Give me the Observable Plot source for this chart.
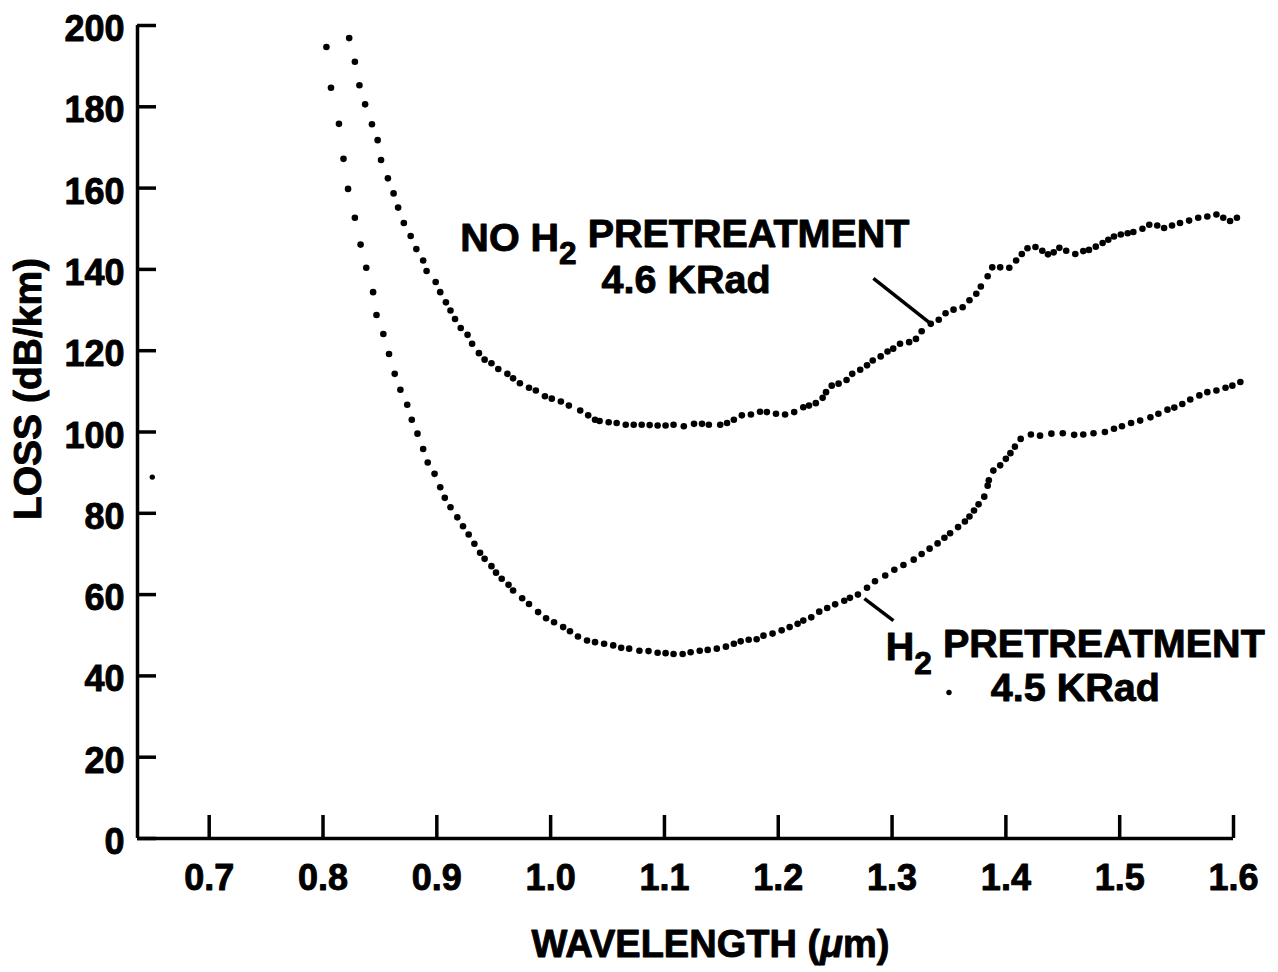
<!DOCTYPE html>
<html>
<head>
<meta charset="utf-8">
<script src="https://cdn.jsdelivr.net/npm/d3@7"></script>
<script src="https://cdn.jsdelivr.net/npm/@observablehq/plot@0.6"></script>
<style>
  html, body { margin: 0; padding: 0; background: #fff; }
  #chart { width: 1278px; height: 972px; }
</style>
</head>
<body>
<div id="chart"></div>
<script>
// ---- Data ----
const noH2Wavelength = [0.823,0.828,0.832,0.837,0.843,0.848,0.851,0.857,0.862,0.866,
  0.871,0.877,0.882,0.888,0.891,0.899,0.903,0.908,0.912,0.916,
  0.921,0.927,0.931,0.937,0.942,0.948,0.954,0.962,0.967,0.973,
  0.981,0.987,0.995,1.001,1.009,1.016,1.026,1.033,1.039,1.043,
  1.051,1.058,1.066,1.073,1.080,1.087,1.094,1.101,1.108,1.117,
  1.126,1.133,1.139,1.149,1.155,1.161,1.168,1.176,1.184,1.190,
  1.198,1.206,1.214,1.222,1.227,1.233,1.239,1.242,1.247,1.253,
  1.260,1.265,1.272,1.278,1.283,1.290,1.296,1.301,1.307,1.315,
  1.321,1.326,1.334,1.341,1.347,1.354,1.362,1.368,1.374,1.378,
  1.384,1.388,1.395,1.403,1.409,1.414,1.419,1.426,1.432,1.437,
  1.442,1.447,1.453,1.461,1.468,1.473,1.479,1.485,1.490,1.495,
  1.501,1.507,1.512,1.520,1.526,1.533,1.539,1.546,1.553,1.561,
  1.569,1.577,1.585,1.591,1.597,1.603];
const noH2Loss = [196.9,191.1,185.3,180.6,175.7,171.8,166.9,162.4,158.7,155.2,
  151.4,148.2,145.0,142.2,139.6,136.9,134.4,131.9,129.9,127.8,
  125.6,123.9,121.7,119.4,117.8,116.9,115.5,114.3,113.2,112.0,
  110.9,110.2,108.8,108.2,107.5,106.5,105.3,104.1,103.0,102.7,
  102.4,102.2,101.8,101.8,101.8,101.7,101.6,101.6,101.8,101.4,
  102.0,102.0,101.8,101.8,102.2,103.0,104.1,104.3,105.0,104.9,
  104.5,104.3,104.9,106.1,106.5,107.1,108.4,109.8,111.4,111.9,
  112.8,114.3,115.3,116.4,117.6,118.6,119.8,120.5,121.7,122.1,
  122.9,124.8,126.6,127.6,129.2,130.1,130.7,132.4,134.0,135.8,
  138.3,140.5,140.5,140.4,142.2,143.8,145.2,145.5,144.6,143.7,
  144.2,145.3,144.6,143.8,144.5,144.8,145.6,146.5,147.3,148.1,
  148.6,148.9,149.2,150.0,151.0,150.8,150.2,150.8,151.4,152.0,
  152.7,153.0,153.5,152.7,151.9,152.7];

const h2Wavelength = [0.803,0.807,0.814,0.818,0.822,0.828,0.833,0.838,0.844,0.847,
  0.853,0.858,0.863,0.868,0.874,0.878,0.883,0.888,0.892,0.898,
  0.903,0.907,0.912,0.918,0.923,0.928,0.933,0.938,0.942,0.948,
  0.952,0.957,0.963,0.967,0.975,0.981,0.989,0.996,1.003,1.011,
  1.017,1.024,1.032,1.039,1.047,1.055,1.062,1.069,1.078,1.086,
  1.094,1.101,1.108,1.116,1.123,1.131,1.138,1.146,1.154,1.161,
  1.167,1.174,1.181,1.187,1.195,1.203,1.210,1.217,1.222,1.229,
  1.236,1.243,1.250,1.258,1.263,1.270,1.278,1.285,1.294,1.302,
  1.310,1.319,1.326,1.333,1.340,1.346,1.351,1.358,1.364,1.368,
  1.372,1.376,1.381,1.384,1.385,1.389,1.395,1.400,1.404,1.408,
  1.413,1.422,1.430,1.440,1.450,1.460,1.468,1.477,1.487,1.495,
  1.502,1.510,1.518,1.527,1.534,1.542,1.548,1.555,1.562,1.570,
  1.577,1.585,1.593,1.599,1.606];
const h2Loss = [194.7,184.7,175.8,167.2,159.8,152.7,146.1,140.4,134.4,128.8,
  124.1,119.2,114.3,110.4,106.7,103.0,99.6,95.8,92.5,89.7,
  86.4,83.8,81.5,79.0,76.8,74.8,72.5,70.3,68.8,67.0,
  65.4,63.9,62.4,61.0,59.1,57.7,55.7,54.2,53.2,52.0,
  51.0,49.7,48.7,48.3,47.9,47.5,46.9,46.7,46.2,46.1,
  45.7,45.6,45.4,45.4,45.8,46.2,46.4,46.7,47.2,47.9,
  48.5,48.9,49.0,49.9,50.4,51.2,52.0,52.8,53.6,54.4,
  55.8,56.7,57.6,58.5,59.2,60.0,61.7,63.3,64.7,66.1,
  67.3,68.6,70.0,71.3,72.6,74.0,75.1,76.6,78.0,79.2,
  80.7,82.2,84.1,86.8,88.1,90.5,91.8,93.4,94.8,96.4,
  98.3,99.4,99.1,99.6,99.7,99.3,99.4,99.7,100.0,100.8,
  101.4,102.2,102.8,103.6,104.5,105.5,106.0,106.9,108.0,109.0,
  109.8,110.2,110.9,111.4,112.3];

// stray specks in the scan
const speckWavelength = [0.650, 1.350];
const speckLoss = [88.9, 35.9];

const xTicks = [0.7,0.8,0.9,1.0,1.1,1.2,1.3,1.4,1.5,1.6];
const yTicks = [0,20,40,60,80,100,120,140,160,180,200];
const xDomain = [0.637, 1.6];
const yDomain = [0, 200];

const xTitle = "WAVELENGTH (μm)";
const yTitle = "LOSS (dB/km)";

const labelText = ["NO H_2 PRETREATMENT", "4.6 KRad", "H_2 PRETREATMENT", "4.5 KRad"];
const labelX = [1.118, 1.119, 1.461, 1.461];
const labelY = [144.6, 134.1, 43.8, 33.9];

const leaderX1 = [1.2836, 1.2757];
const leaderY1 = [137.8, 59.0];
const leaderX2 = [1.3328, 1.3012];
const leaderY2 = [126.9, 53.6];

// ---- Tables built from the arrays ----
const noH2 = noH2Wavelength.map((w, i) => ({w, loss: noH2Loss[i]}));
const h2 = h2Wavelength.map((w, i) => ({w, loss: h2Loss[i]}));
const specks = speckWavelength.map((w, i) => ({w, loss: speckLoss[i]}));
const labels = labelText.map((t, i) => ({t, x: labelX[i], y: labelY[i]}));
const leaders = leaderX1.map((x1, i) => ({x1, y1: leaderY1[i], x2: leaderX2[i], y2: leaderY2[i]}));

const FONT = "'Liberation Sans', Arial, Helvetica, sans-serif";
const EMB = 0.9; // slight stroke to make glyphs heavier, like the scan

const chart = Plot.plot({
  width: 1278,
  height: 972,
  marginLeft: 137,
  marginRight: 45,
  marginTop: 25,
  marginBottom: 134,
  x: {domain: xDomain},
  y: {domain: yDomain},
  style: {fontFamily: FONT, fontWeight: "bold", fontSize: "36px", color: "black", background: "white"},
  marks: [
    // axis lines
    Plot.ruleY([yDomain[0]], {stroke: "black", strokeWidth: 3.5}),
    Plot.ruleX([xDomain[0]], {stroke: "black", strokeWidth: 3.5}),
    // inward ticks
    Plot.axisY(yTicks, {anchor: "left", tickSize: -19, strokeWidth: 3.5, fill: "none", label: null}),
    Plot.axisX(xTicks, {anchor: "bottom", tickSize: -23, strokeWidth: 3.5, fill: "none", label: null}),
    // tick labels
    Plot.axisY(yTicks, {anchor: "left", tickSize: 0, tickPadding: 13, dy: 4, fontSize: 36, fontWeight: "bold",
      textStroke: "black", textStrokeWidth: EMB, label: null}),
    Plot.axisX(xTicks, {anchor: "bottom", tickSize: 0, tickPadding: 26, fontSize: 36, fontWeight: "bold",
      textStroke: "black", textStrokeWidth: EMB, label: null, tickFormat: d3.format(".1f")}),
    // axis titles
    Plot.text([yTitle], {frameAnchor: "left", textAnchor: "middle", lineAnchor: "middle", rotate: -90,
      dx: -109, dy: -43, fontSize: 39, fontWeight: "bold", stroke: "black", strokeWidth: EMB, fill: "black"}),
    Plot.text([xTitle], {frameAnchor: "bottom", textAnchor: "middle", lineAnchor: "middle",
      dx: 25, dy: 106, fontSize: 38, fontWeight: "bold", stroke: "black", strokeWidth: EMB, fill: "black"}),
    // data
    Plot.dot(noH2, {x: "w", y: "loss", r: 3.3, fill: "black"}),
    Plot.dot(h2, {x: "w", y: "loss", r: 3.3, fill: "black"}),
    Plot.dot(specks, {x: "w", y: "loss", r: 2.7, fill: "black"}),
    // annotations
    Plot.link(leaders, {x1: "x1", y1: "y1", x2: "x2", y2: "y2", stroke: "black", strokeWidth: 3.5}),
    Plot.text(labels, {x: "x", y: "y", text: "t", lineAnchor: "bottom", fontSize: 39.5, fontWeight: "bold",
      stroke: "black", strokeWidth: EMB, fill: "black"})
  ]
});

// subscripts and italic mu
d3.select(chart).selectAll("text").each(function() {
  const t = d3.select(this);
  const s = this.textContent;
  if (s.includes("_2")) {
    const [a, b] = s.split("_2");
    t.text(null);
    t.append("tspan").text(a);
    t.append("tspan").attr("dy", "0.42em").attr("font-size", "80%").text("2");
    t.append("tspan").attr("dy", "-0.42em").text(b);
  } else if (s.includes("μ")) {
    const [a, b] = s.split("μ");
    t.text(null);
    t.append("tspan").text(a);
    t.append("tspan").attr("font-style", "italic").text("μ");
    t.append("tspan").text(b);
  }
});

document.getElementById("chart").appendChild(chart);
</script>
</body>
</html>
